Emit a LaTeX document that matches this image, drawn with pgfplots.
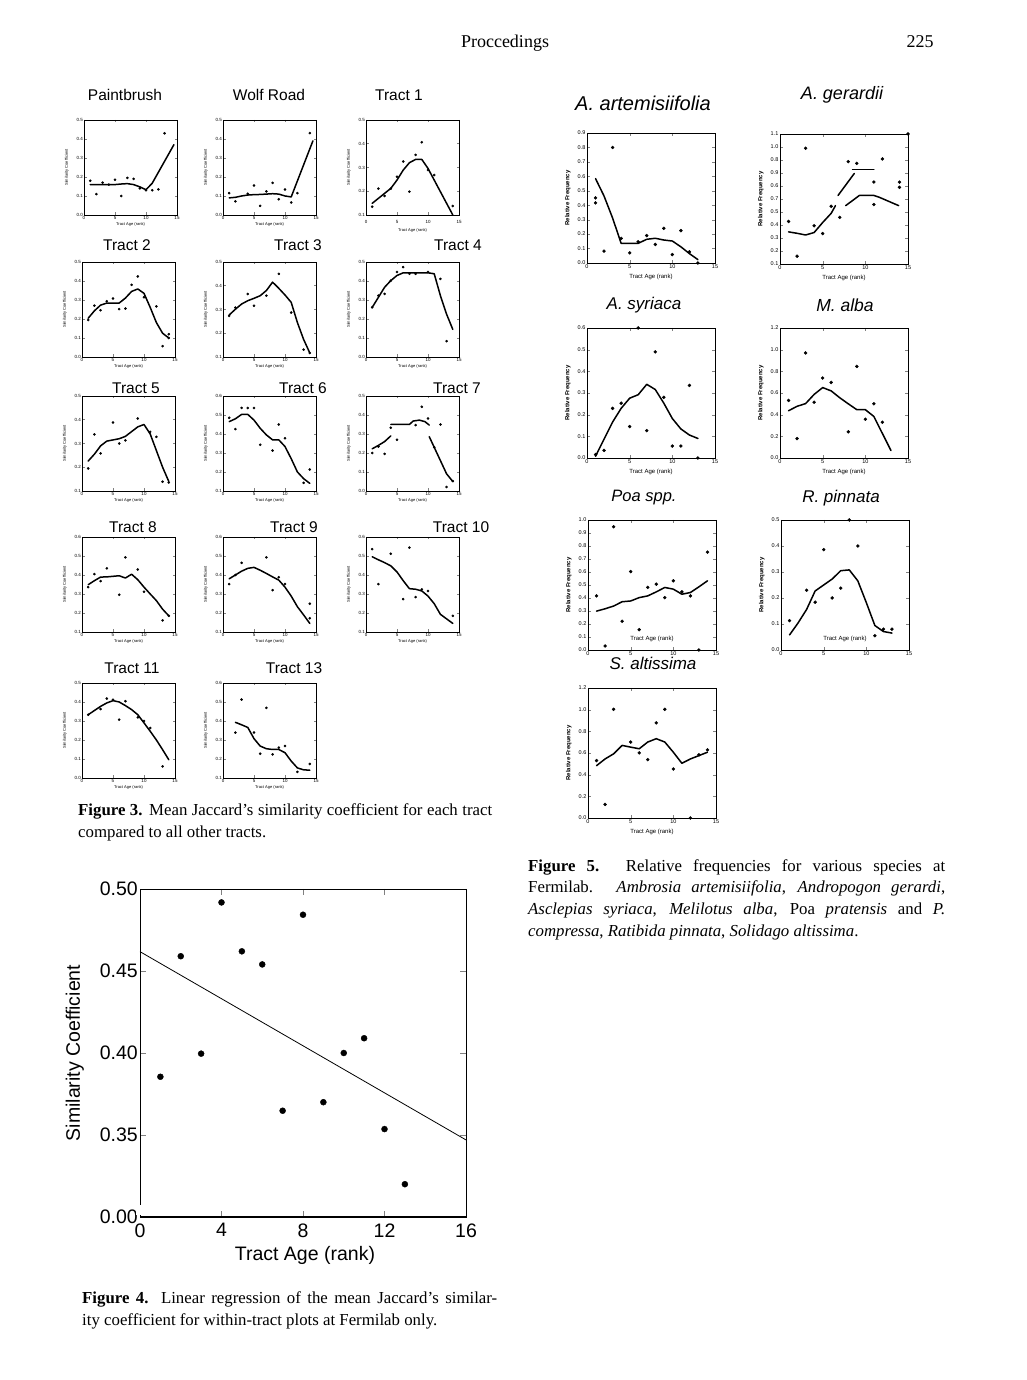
\documentclass[border=0pt]{standalone}
\usepackage{pgfplots}
\pgfplotsset{compat=1.18}
\usepackage{fontspec}
\setmainfont{Liberation Serif}
\setsansfont{Liberation Sans}
\newcommand{\fs}[1]{\fontsize{#1}{#1}\selectfont}
\pgfplotsset{
  base/.style={scale only axis, anchor=north west, clip=false,
    tick align=inside,
    /pgf/number format/assume math mode=true,
    yticklabel style={/pgf/number format/fixed,/pgf/number format/precision=1,/pgf/number format/fixed zerofill}},
  f3/.style={base, width=93pt, height=95pt,
    xmin=0, xmax=15, xtick={0,5,10,15}, major tick length=2.5pt,
    every tick/.append style={line width=0.5pt},
    axis line style={line width=0.8pt},
    ticklabel style={font=\sffamily\fs{4.5}, inner sep=1pt},
    xlabel={Tract Age (rank)}, ylabel={Similarity Coefficient},
    xlabel style={font=\sffamily\fs{4}, at={(axis description cs:0.5,-0.1)}, anchor=center},
    ylabel style={font=\sffamily\fs{4}, at={(axis description cs:-0.185,0.5)}, anchor=center}},
  y05/.style={ymin=0, ymax=0.5, ytick={0,0.1,0.2,0.3,0.4,0.5}},
  y15/.style={ymin=0.1, ymax=0.5, ytick={0.1,0.2,0.3,0.4,0.5}},
  y16/.style={ymin=0.1, ymax=0.6, ytick={0.1,0.2,0.3,0.4,0.5,0.6}},
  f5/.style={base, width=128pt, height=130pt,
    xmin=0, xmax=15, xtick={0,5,10,15}, major tick length=3pt,
    axis line style={line width=0.9pt},
    ticklabel style={font=\sffamily\fs{5.5}, inner sep=1.5pt},
    xlabel={Tract Age (rank)}, ylabel={Relative Frequency},
    xlabel style={font=\sffamily\fs{6}, at={(axis description cs:0.5,-0.108)}, anchor=center},
    ylabel style={font=\sffamily\bfseries\fs{6}, at={(axis description cs:-0.15,0.5)}, anchor=center}},
  dots/.style={only marks, mark=*, mark size=1.1pt, black},
  dots5/.style={only marks, mark=*, mark size=1.5pt, black},
  curve/.style={no marks, line width=1.5pt, black, line join=round, line cap=round},
}
\begin{document}
\begin{tikzpicture}[x=1pt,y=1pt]
\useasboundingbox (0,0) rectangle (1026,1380);
\fill[white] (0,0) rectangle (1026,1380);

% header
\node[font=\fs{18}, anchor=base] at (505,1332) {Proccedings};
\node[font=\fs{18}, anchor=base] at (920,1332) {225};

% ===== Figure 3 titles =====
\begin{scope}[every node/.style={font=\sffamily\fs{15.5}}]
\node at (125,1285) {Paintbrush};
\node at (269,1285) {Wolf Road};
\node at (399,1285) {Tract 1};
\node at (127,1135) {Tract 2};
\node at (298,1135) {Tract 3};
\node at (458,1135) {Tract 4};
\node at (136,992) {Tract 5};
\node at (303,992) {Tract 6};
\node at (457,992) {Tract 7};
\node at (133,853) {Tract 8};
\node at (294,853) {Tract 9};
\node at (461,853) {Tract 10};
\node at (132,712) {Tract 11};
\node at (294,712) {Tract 13};
\end{scope}

% Paintbrush
\begin{axis}[f3, y05, at={(84pt,1260pt)}]
\addplot[dots] coordinates {(1,0.18)(2,0.11)(3,0.17)(4,0.16)(5,0.185)(6,0.1)(7,0.195)(8,0.19)(9,0.14)(10,0.13)(11,0.13)(12,0.135)(13,0.43)};
\addplot[curve] coordinates {(1,0.16)(3,0.16)(5,0.16)(6,0.163)(7,0.165)(8,0.16)(9,0.148)(10,0.133)(11,0.167)(14.5,0.37)};
\end{axis}
% Wolf Road
\begin{axis}[f3, y05, at={(223pt,1260pt)}]
\addplot[dots] coordinates {(1,0.115)(2,0.072)(4,0.112)(5,0.155)(6,0.048)(7,0.124)(8,0.169)(9,0.083)(10,0.134)(11,0.066)(12,0.115)(14,0.431)};
\addplot[curve] coordinates {(1,0.09)(2,0.093)(3,0.1)(4,0.105)(5,0.107)(6,0.108)(7,0.11)(8,0.112)(9,0.11)(10,0.1)(11,0.095)(14.5,0.39)};
\end{axis}
% Tract 1
\begin{axis}[f3, y15, at={(366pt,1260pt)}, xticklabel style={yshift=-4pt}, xlabel style={at={(axis description cs:0.5,-0.16)}}]
\addplot[dots] coordinates {(1,0.135)(2,0.211)(3,0.18)(4,0.211)(5,0.261)(6,0.325)(7,0.198)(8,0.353)(9,0.406)(10,0.289)(11,0.268)(14,0.138)};
\addplot[curve] coordinates {(1,0.149)(2,0.17)(3,0.191)(4,0.212)(5,0.247)(6,0.289)(7,0.32)(8,0.334)(9,0.334)(10,0.296)(11,0.247)(12,0.198)(13,0.149)(14,0.1)};
\end{axis}
% Tract 2
\begin{axis}[f3, y05, at={(82pt,1118pt)}]
\addplot[dots] coordinates {(1,0.195)(2,0.27)(3,0.246)(4,0.293)(5,0.308)(6,0.252)(7,0.255)(8,0.38)(9,0.424)(10,0.314)(12,0.266)(13,0.057)(14,0.12)(14,0.1)};
\addplot[curve] coordinates {(1,0.204)(2,0.243)(3,0.273)(4,0.284)(5,0.284)(6,0.284)(7,0.31)(8,0.345)(9,0.358)(10,0.335)(11,0.261)(12,0.181)(13,0.125)(14,0.1)};
\end{axis}
% Tract 3
\begin{axis}[f3, y15, at={(223pt,1118pt)}]
\addplot[dots] coordinates {(1,0.273)(2,0.308)(4,0.365)(5,0.316)(7,0.358)(9,0.45)(11,0.287)(13,0.131)(14,0.117)};
\addplot[curve] coordinates {(1,0.277)(2,0.301)(3,0.323)(4,0.337)(5,0.347)(6,0.358)(7,0.38)(8,0.415)(9,0.389)(10,0.361)(11,0.33)(12,0.245)(13,0.174)(14,0.117)};
\end{axis}
% Tract 4
\begin{axis}[f3, y05, at={(366pt,1118pt)}]
\addplot[dots] coordinates {(1,0.261)(2,0.323)(3,0.332)(4,0.402)(5,0.447)(6,0.473)(7,0.438)(8,0.438)(10,0.447)(12,0.411)(13,0.083)};
\addplot[curve] coordinates {(1,0.261)(2,0.314)(3,0.367)(4,0.402)(5,0.429)(6,0.443)(7,0.443)(8,0.443)(9,0.443)(10,0.443)(11,0.438)(12,0.323)(13,0.225)(14,0.145)};
\end{axis}
% Tract 5
\begin{axis}[f3, y15, at={(82pt,984pt)}]
\addplot[dots] coordinates {(1,0.195)(2,0.338)(3,0.258)(5,0.388)(6,0.3)(7,0.313)(9,0.405)(11,0.349)(12,0.328)(13,0.139)(14,0.136)};
\addplot[curve] coordinates {(1,0.226)(2,0.255)(3,0.29)(4,0.31)(5,0.315)(6,0.32)(7,0.33)(8,0.35)(9,0.37)(10,0.38)(11,0.34)(12,0.27)(13,0.2)(14,0.14)};
\end{axis}
% Tract 6
\begin{axis}[f3, y16, at={(223pt,984pt)}]
\addplot[dots] coordinates {(1,0.485)(2,0.426)(3,0.537)(4,0.537)(5,0.537)(6,0.343)(8,0.313)(9,0.45)(10,0.378)(13,0.143)(14,0.213)};
\addplot[curve] coordinates {(1,0.465)(2,0.48)(3,0.503)(4,0.503)(5,0.473)(6,0.43)(7,0.395)(8,0.369)(9,0.369)(10,0.334)(11,0.27)(12,0.2)(13,0.165)(14,0.14)};
\end{axis}
% Tract 7
\begin{axis}[f3, y05, at={(366pt,984pt)}]
\addplot[dots] coordinates {(1,0.2)(2,0.234)(3,0.195)(4,0.333)(5,0.27)(8,0.347)(9,0.443)(10,0.382)(11,0.23)(12,0.35)(13,0.021)(14,0.052)};
\addplot[curve] coordinates {(1,0.222)(2,0.24)(3,0.26)(4,0.29)};
\addplot[curve] coordinates {(4,0.35)(5,0.35)(6,0.35)(7,0.35)(7.6,0.368)(8.6,0.373)(9.5,0.365)(10.2,0.347)};
\addplot[curve] coordinates {(10.2,0.286)(11,0.23)(12,0.16)(13,0.09)(14,0.05)};
\end{axis}
% Tract 8
\begin{axis}[f3, y16, at={(82pt,843pt)}]
\addplot[dots] coordinates {(1,0.336)(2,0.405)(3,0.368)(4,0.435)(6,0.296)(7,0.493)(9,0.429)(10,0.312)(13,0.161)(14,0.185)};
\addplot[curve] coordinates {(1,0.349)(2,0.37)(3,0.389)(4,0.39)(5,0.393)(6,0.396)(7,0.384)(8,0.404)(9,0.375)(10,0.336)(11,0.3)(12,0.265)(13,0.22)(14,0.185)};
\end{axis}
% Tract 9
\begin{axis}[f3, y16, at={(223pt,843pt)}]
\addplot[dots] coordinates {(1,0.352)(2,0.4)(3,0.464)(7,0.493)(8,0.32)(9,0.388)(10,0.352)(14,0.249)(14,0.172)};
\addplot[curve] coordinates {(1,0.38)(2,0.4)(3,0.42)(4,0.435)(5,0.44)(6,0.425)(7,0.408)(8,0.39)(9,0.373)(10,0.336)(11,0.289)(12,0.233)(13,0.19)(14,0.145)};
\end{axis}
% Tract 10
\begin{axis}[f3, y16, at={(366pt,843pt)}]
\addplot[dots] coordinates {(1,0.536)(2,0.352)(4,0.512)(6,0.273)(7,0.544)(8,0.284)(9,0.324)(10,0.316)(14,0.185)};
\addplot[curve] coordinates {(1,0.496)(2,0.48)(3,0.465)(4,0.448)(5,0.416)(6,0.37)(7,0.328)(8,0.325)(9,0.316)(10,0.289)(11,0.249)(12,0.193)(14,0.145)};
\end{axis}
% Tract 11
\begin{axis}[f3, y05, at={(82pt,697pt)}]
\addplot[dots] coordinates {(1,0.333)(3,0.363)(4,0.418)(5,0.412)(6,0.307)(7,0.404)(9,0.319)(10,0.3)(11,0.263)(13,0.061)};
\addplot[curve] coordinates {(1,0.333)(2,0.355)(3,0.377)(4,0.395)(5,0.407)(6,0.4)(7,0.381)(8,0.36)(9,0.333)(10,0.29)(11,0.246)(12,0.2)(13,0.149)(14,0.096)};
\end{axis}
% Tract 13
\begin{axis}[f3, y16, at={(223pt,697pt)}]
\addplot[dots] coordinates {(2,0.339)(3,0.513)(5,0.339)(6,0.228)(7,0.469)(8,0.224)(9,0.26)(10,0.268)(12,0.132)(14,0.174)};
\addplot[curve] coordinates {(2,0.393)(3,0.38)(4,0.366)(5,0.307)(6,0.268)(7,0.254)(8,0.25)(9,0.25)(10,0.233)(11,0.189)(12,0.153)(13,0.143)(14,0.141)};
\end{axis}

% Figure 3 caption
\node[anchor=base west, inner sep=0pt, font=\fs{16.8}] at (78,564) {\makebox[414pt][s]{\textbf{Figure 3.} Mean Jaccard's similarity coefficient for each tract}};
\node[anchor=base west, inner sep=0pt, font=\fs{16.8}] at (78,542) {compared to all other tracts.};

% ===== Figure 4 =====
\begin{axis}[at={(140pt,491pt)}, anchor=north west, scale only axis, width=326pt, height=328pt, clip=false,
  xmin=0, xmax=16, ymin=0.30, ymax=0.50,
  xtick={0,4,8,12,16}, xticklabels={0,4,8,12,16},
  ytick={0.30,0.35,0.40,0.45,0.50}, yticklabels={0.00,0.35,0.40,0.45,0.50},
  tick align=inside, major tick length=6pt,
  axis line style={line width=0.7pt},
  ticklabel style={font=\sffamily\fs{19.5}},
  yticklabel style={inner sep=2pt},
  xticklabel style={yshift=-3pt},
  xlabel={Tract Age (rank)}, ylabel={Similarity Coefficient},
  label style={font=\sffamily\fs{19.5}},
  xlabel style={at={(axis description cs:0.506,-0.118)}, anchor=center},
  ylabel style={at={(axis description cs:-0.2,0.5)}, anchor=center}]
\addplot[only marks, mark=*, mark size=3pt, black] coordinates {(1,0.3855)(2,0.459)(3,0.3996)(4,0.4918)(5,0.462)(6,0.454)(7,0.3648)(8,0.4843)(9,0.370)(10,0.400)(11,0.409)(12,0.3536)(13,0.320)};
\addplot[no marks, black, line width=0.8pt] coordinates {(0,0.4618)(16,0.347)};
\fill[white] (axis cs:-0.2,0.3012) rectangle (axis cs:0.2,0.3075);
\draw[line width=2pt] (axis cs:0,0.3) -- (axis cs:16,0.3);
\end{axis}

% Figure 4 caption
\node[anchor=base west, inner sep=0pt, font=\fs{16.8}] at (82,76) {\makebox[415pt][s]{\textbf{Figure 4.} Linear regression of the mean Jaccard's similar-}};
\node[anchor=base west, inner sep=0pt, font=\fs{16.8}] at (82,54) {ity coefficient for within-tract plots at Fermilab only.};

% ===== Figure 5 titles =====
\node[font=\sffamily\itshape\fs{20}] at (643,1277) {A. artemisiifolia};
\node[font=\sffamily\itshape\fs{18}] at (842,1285) {A. gerardii};
\node[font=\sffamily\itshape\fs{17}] at (644,1075) {A. syriaca};
\node[font=\sffamily\itshape\fs{17.5}] at (845,1075) {M. alba};
\node[font=\sffamily\itshape\fs{16.5}] at (644,882) {Poa spp.};
\node[font=\sffamily\itshape\fs{17}] at (841,882) {R. pinnata};
\node[font=\sffamily\itshape\fs{17}] at (653,717) {S. altissima};

% A. artemisiifolia
\begin{axis}[f5, at={(587pt,1247pt)}, ymin=0, ymax=0.9, ytick={0,0.1,0.2,0.3,0.4,0.5,0.6,0.7,0.8,0.9}]
\addplot[dots5] coordinates {(1,0.451)(1,0.416)(2,0.082)(3,0.8)(4,0.17)(5,0.07)(6,0.147)(7,0.19)(8,0.128)(9,0.24)(10,0.058)(11,0.224)(12,0.077)(13,0)};
\addplot[curve] coordinates {(1,0.584)(2,0.463)(3,0.311)(4,0.136)(5,0.136)(6,0.136)(7,0.164)(8,0.171)(9,0.159)(10,0.152)(11,0.112)(12,0.065)(13,0.023)};
\end{axis}
% A. gerardii
\begin{axis}[f5, at={(780pt,1246pt)}, ymin=0.1, ymax=1.1, ytick={0.1,0.2,0.3,0.4,0.5,0.6,0.7,0.8,0.9,1.0,1.1},
  yticklabels={0.1,0.2,0.3,0.4,0.5,0.7,0.6,0.9,0.8,1.0,1.1}]
\addplot[dots5] coordinates {(1,0.427)(2,0.16)(3,0.99)(4,0.394)(5,0.334)(6,0.544)(7,0.458)(8,0.887)(9,0.874)(11,0.557)(11,0.73)(12,0.908)(14,0.69)(14,0.73)(15,1.1)};
\addplot[curve] coordinates {(1,0.347)(2,0.336)(3,0.323)(4,0.342)(5,0.419)(6,0.49)(6.5,0.549)};
\addplot[curve] coordinates {(6.8,0.627)(8.7,0.796)};
\addplot[curve] coordinates {(8.5,0.827)(11,0.827)};
\addplot[curve] coordinates {(7.7,0.549)(9.3,0.627)(11,0.627)(11.6,0.614)(13.9,0.549)};
\end{axis}
% A. syriaca
\begin{axis}[f5, at={(587pt,1052pt)}, ymin=0, ymax=0.6, ytick={0,0.1,0.2,0.3,0.4,0.5,0.6}]
\addplot[dots5] coordinates {(1,0.016)(2,0.035)(3,0.229)(4,0.253)(5,0.145)(6,0.6)(7,0.126)(8,0.49)(9,0.28)(10,0.055)(11,0.055)(12,0.335)(13,0)};
\addplot[curve] coordinates {(1,0.008)(2,0.087)(3,0.166)(4,0.229)(5,0.276)(6,0.292)(7,0.34)(8,0.316)(9,0.253)(10,0.182)(11,0.134)(12,0.106)(13,0.09)};
\end{axis}
% M. alba
\begin{axis}[f5, at={(780pt,1052pt)}, ymin=0, ymax=1.2, ytick={0,0.2,0.4,0.6,0.8,1.0,1.2}]
\addplot[dots5] coordinates {(1,0.531)(2,0.179)(3,0.97)(4,0.515)(5,0.738)(6,0.697)(8,0.242)(9,0.845)(10,0.358)(11,0.5)(12,0.33)};
\addplot[curve] coordinates {(1,0.436)(2,0.477)(3,0.502)(4,0.587)(5,0.65)(6,0.619)(7,0.556)(8,0.5)(9,0.446)(10,0.446)(11,0.383)(12,0.226)(13,0.069)};
\end{axis}
% Poa spp.
\begin{axis}[f5, at={(588pt,860pt)}, ymin=0, ymax=1.0, ytick={0,0.1,0.2,0.3,0.4,0.5,0.6,0.7,0.8,0.9,1.0},
  xlabel style={at={(axis description cs:0.5,0.085)}}]
\addplot[dots5] coordinates {(1,0.416)(2,0.031)(3,0.948)(4,0.221)(5,0.603)(6,0.156)(7,0.481)(8,0.506)(9,0.403)(10,0.532)(11,0.447)(12,0.416)(13,0)(14,0.753)};
\addplot[curve] coordinates {(1,0.299)(2,0.317)(3,0.338)(4,0.371)(5,0.377)(6,0.403)(7,0.416)(8,0.447)(9,0.481)(10,0.468)(11,0.429)(12,0.442)(13,0.486)(14,0.532)};
\end{axis}
% R. pinnata
\begin{axis}[f5, at={(781pt,860pt)}, ymin=0, ymax=0.5, ytick={0,0.1,0.2,0.3,0.4,0.5},
  xlabel style={at={(axis description cs:0.5,0.085)}}]
\addplot[dots5] coordinates {(1,0.113)(3,0.23)(4,0.184)(5,0.386)(6,0.2)(7,0.238)(8,0.5)(9,0.4)(11,0.055)(12,0.08)(13,0.08)};
\addplot[curve] coordinates {(1,0.058)(2,0.104)(3,0.156)(4,0.227)(5,0.25)(6,0.273)(7,0.305)(8,0.308)(9,0.266)(10,0.182)(11,0.094)(12,0.071)(13,0.065)};
\end{axis}
% S. altissima
\begin{axis}[f5, at={(588pt,692pt)}, ymin=0, ymax=1.2, ytick={0,0.2,0.4,0.6,0.8,1.0,1.2}]
\addplot[dots5] coordinates {(1,0.53)(2,0.125)(3,1.003)(5,0.701)(6,0.601)(7,0.539)(8,0.878)(9,1.003)(10,0.452)(12,0)(13,0.583)(14,0.629)};
\addplot[curve] coordinates {(1,0.483)(2,0.545)(3,0.592)(4,0.67)(5,0.654)(6,0.639)(7,0.701)(8,0.732)(9,0.701)(10,0.607)(11,0.505)(12,0.545)(13,0.576)(14,0.607)};
\end{axis}

% Figure 5 caption
\node[anchor=base west, inner sep=0pt, font=\fs{16.8}] at (528,508) {\makebox[417pt][s]{\textbf{Figure 5.} Relative frequencies for various species at}};
\node[anchor=base west, inner sep=0pt, font=\fs{16.8}] at (528,487) {\makebox[417pt][s]{Fermilab. \textit{Ambrosia artemisiifolia}, \textit{Andropogon gerardi},}};
\node[anchor=base west, inner sep=0pt, font=\fs{16.8}] at (528,465) {\makebox[417pt][s]{\textit{Asclepias syriaca}, \textit{Melilotus alba}, Poa \textit{pratensis} and \textit{P.}}};
\node[anchor=base west, inner sep=0pt, font=\fs{16.8}] at (528,443) {\textit{compressa}, \textit{Ratibida pinnata}, \textit{Solidago altissima}.};
\end{tikzpicture}
\end{document}
